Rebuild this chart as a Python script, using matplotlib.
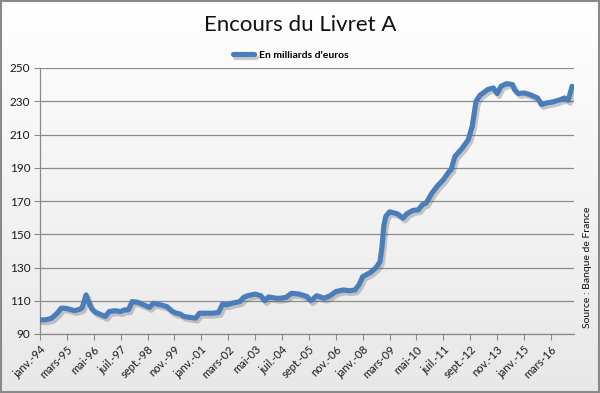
import numpy as np
import matplotlib
matplotlib.use("Agg")
import matplotlib.pyplot as plt
import matplotlib.patheffects as pe
from matplotlib.patches import Rectangle

# Month index from janv.-94 (0) and outstanding amount (billions of euros)
months = [0, 3, 6, 9, 11, 13, 15, 18, 21, 22, 24, 25, 27, 29, 32, 34, 36, 39, 42, 44,
          46, 48, 51, 55, 57, 59, 61, 63, 66, 69, 71, 73, 75, 78, 81, 83, 87, 90, 93, 95,
          97, 100, 104, 106, 108, 112, 115, 117, 119, 123, 125, 128, 131, 135, 139, 141,
          144, 148, 151, 154, 158, 161, 164, 166, 168, 172, 175, 177, 178, 179, 180, 182,
          186, 189, 191, 194, 197, 199, 201, 204, 207, 210, 213, 214, 216, 220, 223, 225,
          227, 229, 233, 236, 238, 240, 243, 246, 247, 249, 252, 255, 259, 261, 264, 267,
          271, 273, 275, 277]
values = [98.5, 98.5, 99.5, 102.5, 105.5, 105.5, 105, 104, 105, 106, 113.5, 110, 105, 103,
          101.5, 100.5, 103.5, 104, 103.5, 104.5, 104.5, 109.5, 109, 107, 106, 108.5, 108,
          107.5, 106.5, 103.5, 102.5, 102, 100.5, 100, 99.5, 102.5, 102.5, 102.5, 103, 108,
          107.5, 108.5, 109.5, 112, 113, 114, 113, 110, 112.3, 111.5, 111.5, 112, 114.5, 114,
          112.5, 110, 113, 111.5, 113, 115.5, 116.5, 116, 116.5, 119.5, 124.5, 127, 130,
          133.5, 142, 155, 160.7, 163.5, 162.3, 159.7, 162.3, 164.3, 164.7, 167.7, 168.7,
          174.7, 179.2, 182.8, 187.8, 188.8, 196.8, 202, 207, 215, 230, 233.5, 237, 238,
          234.6, 239, 240.6, 240, 237, 234.6, 235, 234, 232, 228, 229, 229.6, 231, 232,
          230.5, 239]

tick_months = [0, 14, 28, 42, 56, 70, 84, 98, 112, 126, 140, 154, 168, 182, 196, 210,
               224, 238, 252, 266]
tick_labels = ["janv.-94", "mars-95", "mai-96", "juil.-97", "sept.-98", "nov.-99",
               "janv.-01", "mars-02", "mai-03", "juil.-04", "sept.-05", "nov.-06",
               "janv.-08", "mars-09", "mai-10", "juil.-11", "sept.-12", "nov.-13",
               "janv.-15", "mars-16"]
y_ticks = [90, 110, 130, 150, 170, 190, 210, 230, 250]

plt.rcParams['font.family'] = ['Lato', 'DejaVu Sans']

fig = plt.figure(figsize=(6.0, 3.93), dpi=100)

# background gradient
bg = fig.add_axes([0, 0, 1, 1], zorder=-10)
grad = np.linspace(1.0, 0.91, 256).reshape(-1, 1)
bg.imshow(np.dstack([grad, grad, grad]), aspect='auto', extent=[0, 1, 0, 1])
bg.set_axis_off()
fig.patches.append(Rectangle((0.002, 0.003), 0.996, 0.994, transform=fig.transFigure,
                             fill=False, edgecolor='#8a8a8a', lw=1.5))

ax = fig.add_axes([40/600, 1-334/393, 534/600, 266/393])
ax.patch.set_alpha(0)

line, = ax.plot(months, values, color='#4a7ebb', lw=3.7, solid_joinstyle='round',
                solid_capstyle='round', label="En milliards d'euros", zorder=5)
line.set_path_effects([pe.SimpleLineShadow(offset=(1.5, -2), shadow_color='#555555', alpha=0.3),
                       pe.Normal()])

ax.set_ylim(90, 250)
ax.set_xlim(0, 278)
ax.set_yticks(y_ticks)
ax.set_yticklabels([str(v) for v in y_ticks], fontsize=8.5, color='#1a1a1a')
ax.set_xticks(tick_months)
ax.set_xticklabels(tick_labels, rotation=45, ha='right', rotation_mode='anchor',
                   fontsize=8, color='#1a1a1a')
ax.tick_params(axis='x', length=4, color='#8a8a8a', pad=3)
ax.tick_params(axis='y', length=4, color='#8a8a8a', pad=3)
ax.grid(axis='y', color='#8c8c8c', lw=0.9)
ax.set_axisbelow(True)
for s in ['top', 'right']:
    ax.spines[s].set_visible(False)
for s in ['left', 'bottom']:
    ax.spines[s].set_color('#8a8a8a')
    ax.spines[s].set_linewidth(0.9)

fig.text(300/600, 1-25/393, "Encours du Livret A", ha='center', va='center', fontsize=16,
         color='#111111')
leg = fig.legend(handles=[line], labels=["En milliards d'euros"], loc='center',
                 bbox_to_anchor=(291/600, 1-55/393), frameon=False,
                 handlelength=2.0, handletextpad=0.5, prop={'weight': 'bold', 'size': 7.5})
fig.text(588/600, 1-267/393, "Source : Banque de France", rotation=90, ha='center',
         va='center', fontsize=7.5, color='#111111')

fig.savefig("out.png", dpi=100)
